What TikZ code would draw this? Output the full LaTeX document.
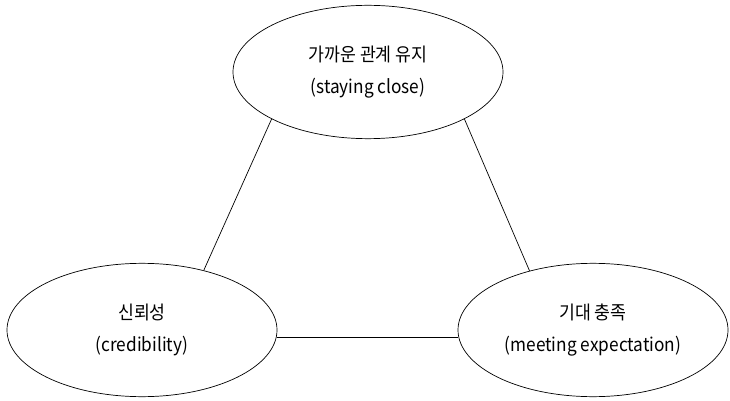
\documentclass[tikz,border=0pt]{standalone}
\usepackage{fontspec}
\setmainfont{Noto Sans CJK KR}[FakeStretch=0.92]
\usepackage{tikz}
\usetikzlibrary{shapes.geometric}

\begin{document}
\begin{tikzpicture}[x=0.03cm,y=-0.03cm,
        font=\fontsize{16}{28}\selectfont,
        goal/.style={draw,ellipse,line width=0.6pt,minimum width=8.1cm,minimum height=4cm,align=center,inner sep=0pt}]
        \useasboundingbox (0,0) rectangle (730,401);
        \node[goal] (close) at (368,72) {가까운 관계 유지\\(staying close)};
        \node[goal] (cred) at (142,330) {신뢰성\\(credibility)};
        \node[goal] (meet) at (593,330) {기대 충족\\(meeting expectation)};
        \draw[line width=0.6pt] (close.206)--(cred.44); \draw[line width=0.6pt] (close.334)--(meet.137);
        \draw[line width=0.6pt] (cred.-3)--(meet.183);
      \end{tikzpicture}
\end{document}
